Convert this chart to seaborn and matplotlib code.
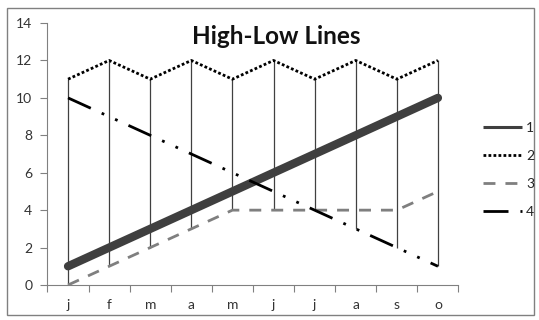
import matplotlib
matplotlib.use("Agg")
import matplotlib.pyplot as plt
from matplotlib.patches import Rectangle
import numpy as np
import pandas as pd
import seaborn as sns

categories = ["j", "f", "m", "a", "m", "j", "j", "a", "s", "o"]
series_names = ["1", "2", "3", "4"]
s1 = [1, 2, 3, 4, 5, 6, 7, 8, 9, 10]
s2 = [11, 12, 11, 12, 11, 12, 11, 12, 11, 12]
s3 = [0, 1, 2, 3, 4, 4, 4, 4, 4, 5]
s4 = [10, 9, 8, 7, 6, 5, 4, 3, 2, 1]
y_ticks = [0, 2, 4, 6, 8, 10, 12, 14]

sns.set_theme(style="white")
plt.rcParams["font.family"] = ["Lato", "DejaVu Sans"]

idx = np.arange(len(categories))
df = pd.DataFrame({
    "pos": np.tile(idx, 4),
    "value": s1 + s2 + s3 + s4,
    "series": np.repeat(series_names, len(categories)),
})

fig = plt.figure(figsize=(5.39, 3.2), dpi=100)
ax = fig.add_axes([0.0881, 0.1094, 0.7625, 0.8186])

palette = {"1": "#3f3f3f", "2": "#000000", "3": "#7f7f7f", "4": "#000000"}
dashes = {"1": "", "2": (1, 0.8), "3": (4.3, 3.6), "4": (9, 4.3, 1, 4.3, 1, 4.3)}
sizes = {"1": 6.0, "2": 2.0, "3": 2.0, "4": 2.0}
caps = {"1": "round", "2": "butt", "3": "butt", "4": "butt"}

# high-low lines between min and max of all series at each category
stack = np.vstack([s1, s2, s3, s4])
ax.vlines(idx, stack.min(axis=0), stack.max(axis=0), color="#404040", lw=0.9, zorder=1)

sns.lineplot(data=df, x="pos", y="value", hue="series", style="series",
             size="series", sizes=sizes, palette=palette, dashes=dashes,
             ax=ax, legend=True, zorder=3)
for line, name in zip(ax.lines, series_names):
    line.set_solid_capstyle(caps[name])
    line.set_dash_capstyle(caps[name])

ax.set_xlim(-0.5, len(categories) - 0.5)
ax.set_ylim(0, 14)
ax.set_yticks(y_ticks)
ax.set_yticklabels([str(t) for t in y_ticks], fontsize=10, color="#333333")
ax.set_xticks(np.arange(-0.5, len(categories), 1.0))
ax.set_xticklabels([])
ax.set_xticks(idx, minor=True)
ax.set_xticklabels(categories, minor=True, fontsize=10, color="#333333")
ax.tick_params(axis="x", which="major", direction="out", length=5, width=0.8,
               color="#808080", bottom=True)
ax.tick_params(axis="x", which="minor", length=0, pad=10)
ax.tick_params(axis="y", direction="out", length=5, width=0.8, color="#808080",
               left=True, pad=6)
ax.set_xlabel("")
ax.set_ylabel("")
for side in ["top", "right"]:
    ax.spines[side].set_visible(False)
for side in ["left", "bottom"]:
    ax.spines[side].set_color("#808080")
    ax.spines[side].set_linewidth(0.8)

fig.text(276 / 539, 1 - 36 / 320, "High-Low Lines", fontsize=17.5,
         fontweight="bold", color="#111111", ha="center", va="center")

handles, labels = ax.get_legend_handles_labels()
if ax.get_legend():
    ax.get_legend().remove()
leg = fig.legend(handles, labels, loc="upper left",
                 bbox_to_anchor=(483 / 539, 1 - 122 / 320), frameon=False,
                 fontsize=10, handlelength=2.8, handletextpad=0.3,
                 labelspacing=1.15, borderpad=0, borderaxespad=0)
for h, name in zip(leg.get_lines(), labels):
    if h.get_linewidth() > 3:
        h.set_linewidth(2.2)
    h.set_solid_capstyle("butt")
    h.set_dash_capstyle("butt")

fig.patches.append(Rectangle((0.013, 0.017), 0.977, 0.958, transform=fig.transFigure,
                             fill=False, edgecolor="#808080", lw=1.0))

fig.savefig("out.png", dpi=100)
